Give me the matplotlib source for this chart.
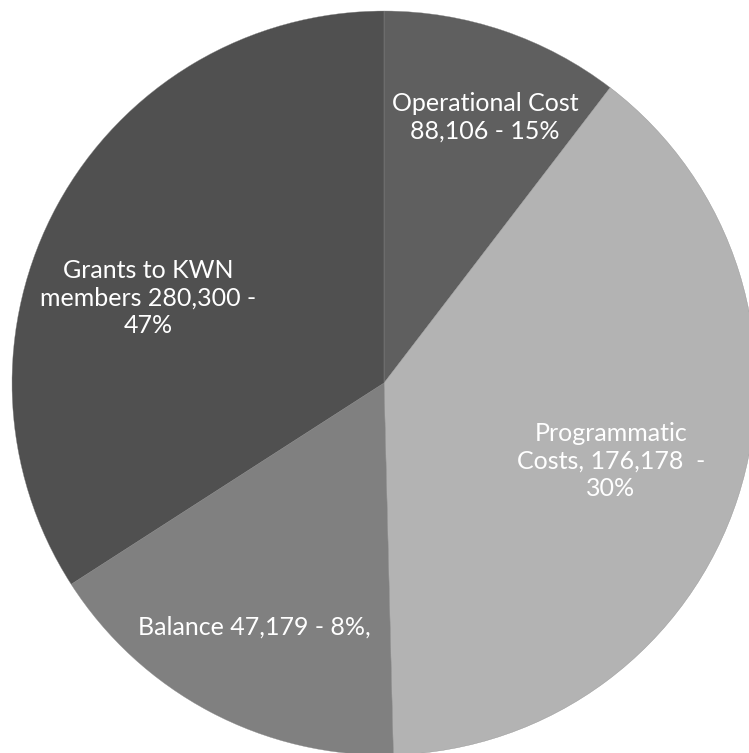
import matplotlib
matplotlib.use("Agg")
import matplotlib.pyplot as plt

# slice shares as drawn (clockwise from 12 o'clock)
categories = ["Operational Cost", "Programmatic Costs", "Balance", "Grants to KWN members"]
shares = [10.4, 39.2, 16.3, 34.1]
labels = [
    "Operational Cost\n88,106 - 15%",
    "Programmatic\nCosts, 176,178  -\n30%",
    "Balance 47,179 - 8%,",
    "Grants to KWN\nmembers 280,300 -\n47%",
]
colors = ["#5f5f5f", "#b3b3b3", "#808080", "#505050"]

# label centres in pixels of the image
label_pos = [(485, 117), (611, 461), (254, 627), (148, 298)]

W, H = 749, 753
cx, cy, r = 384, 383, 372

fig = plt.figure(figsize=(W / 100, H / 100), dpi=100)
ax = fig.add_axes([0, 0, 1, 1])
ax.pie(shares, colors=colors, startangle=90, counterclock=False,
       radius=r, center=(0, 0),
       wedgeprops=dict(edgecolor="#8a8a8a", linewidth=0.25))
ax.set_xlim(-cx, W - cx)
ax.set_ylim(-(H - cy), cy)
ax.set_aspect("equal")
ax.axis("off")

for lab, (px, py) in zip(labels, label_pos):
    ax.text(px - cx, cy - py, lab, ha="center", va="center",
            color="white", fontsize=18, family=["Lato", "DejaVu Sans"],
            linespacing=1.22)

fig.savefig("out.png", dpi=100)
